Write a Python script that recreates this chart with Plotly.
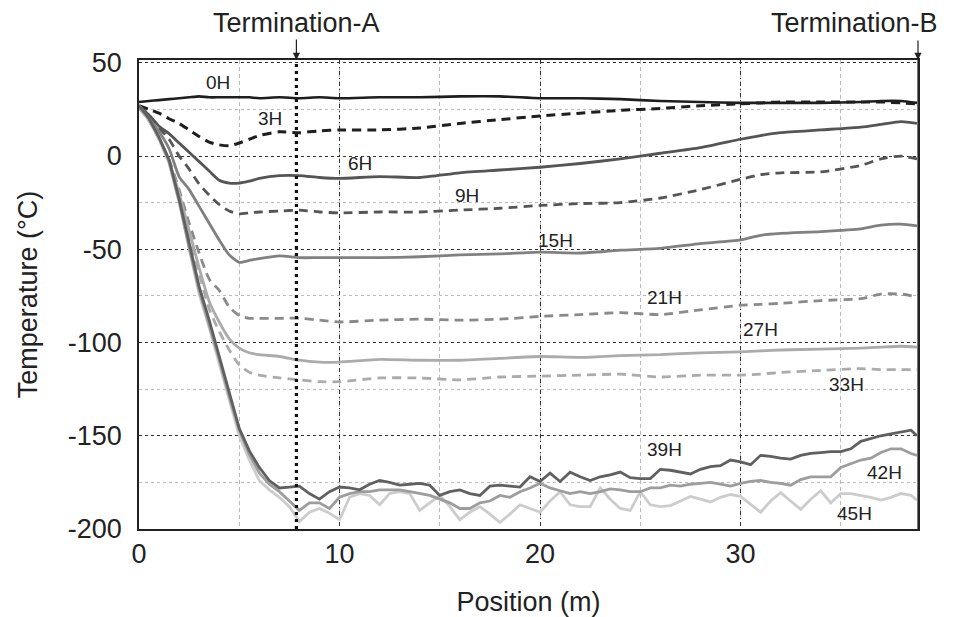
import plotly.graph_objects as go

# ---------------- data ----------------
X_S = [0, 0.5, 1, 1.5, 2, 2.5, 3, 3.5, 4, 4.5, 5, 5.5, 6, 7, 8, 9, 10, 12, 14, 16, 18,
       20, 22, 24, 26, 28, 30, 31, 32, 34, 36, 37, 38, 38.8]

T_0H = [29, 29.5, 30, 30.5, 31, 31.5, 32, 31.5, 31.5, 31.5, 31.5, 31.5, 31, 31.5, 31, 31.5, 31, 31.5, 31.5, 32, 32,
        31, 31, 30.5, 29.5, 29, 28.5, 28.5, 28.5, 28.5, 29, 29.5, 29.5, 28.5]
T_3H = [27, 25, 23, 20, 17.5, 14, 10.5, 7.5, 6, 5.5, 7, 9, 11, 13, 12.5, 13.5, 14, 14, 15, 17.5, 19.5,
        21.5, 23, 24.5, 25.5, 27, 28, 28.5, 29, 29, 29, 29, 28.5, 28]
T_6H = [27, 22, 16, 12, 7, 2, -3, -8, -13, -14.5, -14.5, -13.5, -12, -10.5, -10.5, -11.5, -12, -11, -11.5, -9, -7.5,
        -6, -4, -1.5, 1.5, 4.5, 9, 11, 12.5, 14, 15.5, 17, 18.5, 17.5]
T_9H = [27, 22, 15, 9, 0, -7, -15, -21, -26, -29.5, -31, -30.5, -30, -29.5, -29, -30, -30.5, -30, -30, -29, -28,
        -26.5, -25.5, -25, -22.5, -18, -12.5, -10, -9, -8.5, -5, -1.5, 0, -1.5]
T_15H = [26, 20, 13, 4, -11, -18, -27, -36, -45, -53, -57, -56, -55, -53.5, -54.5, -54.5, -54.5, -54.5, -54, -53, -52.5,
         -51.5, -52, -50.5, -49.5, -47, -45, -42.5, -41.5, -40.5, -39, -37, -36.5, -37.5]
T_21H = [26, 19, 9, -2, -18, -36, -52, -66, -72, -81, -85.5, -87, -87, -87, -87, -88, -89, -88, -87.5, -88, -87.5,
         -86, -85, -84, -85, -82.5, -80, -79.5, -79, -77.5, -76.5, -74, -74, -75.5]
T_27H = [26, 19, 9, -3, -20, -40, -60, -78, -89, -98, -103, -105.5, -106.5, -107.5, -109.5, -110.5, -110.5, -109, -109.5, -109.5, -108.5,
         -107.5, -108, -107, -106.5, -105.5, -105, -104.5, -104, -103.5, -103, -102.5, -102, -102.5]
T_33H = [26, 19, 9, -3, -21, -42, -63, -82, -94, -104, -112, -116, -117.5, -119, -120, -121, -121, -119, -119, -120, -118.5,
         -118, -117.5, -117, -118.5, -117.5, -117.5, -117, -116, -115, -114, -114.5, -114.5, -114.5]

X_N = [0, 0.5, 1, 1.5, 2, 2.5, 3, 3.5, 4, 4.5, 5, 5.5, 6, 6.5, 7, 7.5, 8, 8.5, 9, 9.5,
       10, 10.5, 11, 11.5, 12, 12.5, 13, 13.5, 14, 14.5, 15, 15.5, 16, 16.5, 17, 17.5, 18, 18.5, 19, 19.5,
       20, 20.5, 21, 21.5, 22, 22.5, 23, 23.5, 24, 24.5, 25, 25.5, 26, 26.5, 27, 27.5, 28, 28.5, 29, 29.5,
       30, 30.5, 31, 31.5, 32, 32.5, 33, 33.5, 34, 34.5, 35, 35.5, 36, 36.5, 37, 37.5, 38, 38.5, 38.8]

T_39H = [27, 20, 10, -2, -23, -47, -70, -88, -107, -127, -146, -158, -167, -174, -178, -177.5, -177, -181, -184, -180,
         -177.5, -178, -179, -176, -174, -175, -176.5, -176, -175.5, -176.5, -182, -180, -179, -181, -182, -177, -176.5, -177, -177.5, -172,
         -174.5, -170, -174.5, -169.5, -172, -174, -172, -171, -169.5, -172.5, -173, -173, -168, -168.5, -169.5, -170.5, -168, -166.5, -166, -163,
         -164, -165.5, -160.5, -161, -162, -162.5, -160.5, -159.5, -159, -158.5, -158.5, -157, -153, -151.5, -150, -149, -148, -147, -150]
T_42H = [27, 20, 10, -3, -24, -49, -72, -90, -109, -129, -147, -160, -170, -176, -180, -185, -190, -186, -186, -189,
         -183, -181, -180, -180, -179, -179, -179, -180, -181, -182, -184, -186, -189, -189, -186, -185, -182, -183, -180, -178,
         -175.5, -178, -179.5, -181, -180, -181, -180, -178.5, -179, -180, -180, -178, -178, -176.5, -177, -176, -175.5, -175, -176, -177,
         -175.5, -174.5, -174, -175, -175.5, -176.5, -173.5, -172, -172, -172, -167, -165, -163, -162, -159, -157, -157, -159.5, -160.5]
T_45H = [27, 19, 9, -4, -25, -50, -74, -92, -111, -131, -150, -163, -174, -179, -183, -188, -196, -191, -189, -191.5,
         -195, -183, -181, -182, -187, -181, -180, -181, -190, -186, -182, -188, -195, -191, -188, -192, -196.5, -192, -187, -189,
         -191, -185, -180, -187, -188, -188, -178, -184, -189, -190, -180, -187, -188, -187.5, -185, -182.5, -184, -185.5, -183, -181.5,
         -182.5, -187, -191, -185, -180.5, -185, -189.5, -184, -179.5, -186, -181, -181, -182, -183, -184.5, -183, -181, -182, -184.5]

LABELS = ["0H", "3H", "6H", "9H", "15H", "21H", "27H", "33H", "39H", "42H", "45H"]
LABEL_X = [3.95, 6.55, 11.0, 16.35, 20.75, 26.2, 31.0, 35.3, 26.2, 37.2, 35.7]
LABEL_Y = [39.5, 20.2, -3.9, -21.0, -45.2, -75.7, -92.9, -122.3, -157.2, -169.5, -191.5]

X_TICKS = [0, 10, 20, 30]
X_TICK_TEXT = ["0", "10", "20", "30"]
Y_TICKS = [50, 0, -50, -100, -150, -200]
Y_TICK_TEXT = ["50", "0", "-50", "-100", "-150", "-200"]

TERM_A_X = 7.85
X_MAX = 38.85

# ---------------- styles ----------------
series = [
    (X_S, T_0H, "#1e1e1e", "solid", 2.6, "spline"),
    (X_S, T_3H, "#1e1e1e", "9px,6px", 3.0, "spline"),
    (X_S, T_6H, "#555555", "solid", 2.8, "spline"),
    (X_S, T_9H, "#555555", "9px,6px", 2.8, "spline"),
    (X_S, T_15H, "#808080", "solid", 2.8, "spline"),
    (X_S, T_21H, "#8a8a8a", "9px,6px", 2.8, "spline"),
    (X_S, T_27H, "#ababab", "solid", 2.8, "spline"),
    (X_S, T_33H, "#ababab", "9px,6px", 2.8, "spline"),
    (X_N, T_45H, "#cccccc", "solid", 2.8, "linear"),
    (X_N, T_42H, "#9d9d9d", "solid", 2.8, "linear"),
    (X_N, T_39H, "#606060", "solid", 2.8, "linear"),
]

fig = go.Figure()
for xs, ys, col, dash, w, shp in series:
    line = dict(color=col, dash=dash, width=w, shape=shp)
    if shp == "spline":
        line["smoothing"] = 0.6
    fig.add_trace(go.Scatter(x=xs, y=ys, mode="lines", line=line,
                             showlegend=False, hoverinfo="skip"))

# Termination-A vertical dotted line
fig.add_shape(type="line", x0=TERM_A_X, x1=TERM_A_X, y0=0, y1=1, yref="paper",
              line=dict(color="#111111", width=3.2, dash="3px,4px"))
# Termination-B line at right edge
fig.add_shape(type="line", x0=X_MAX, x1=X_MAX, y0=0, y1=1, yref="paper",
              line=dict(color="#777777", width=2))

FONT = "Liberation Sans, Arial, sans-serif"

for t, lx, ly in zip(LABELS, LABEL_X, LABEL_Y):
    fig.add_annotation(x=lx, y=ly, text=t, showarrow=False,
                       font=dict(family=FONT, size=19, color="#222222"))

fig.add_annotation(x=TERM_A_X, y=1, yref="paper", text="Termination-A",
                   showarrow=True, arrowhead=2, arrowsize=1.2, arrowwidth=1.2,
                   arrowcolor="#222222", ax=0, ay=-37, standoff=0,
                   font=dict(family=FONT, size=27, color="#222222"))
fig.add_annotation(x=X_MAX, y=1, yref="paper", text=" ",
                   showarrow=True, arrowhead=2, arrowsize=1.2, arrowwidth=1.2,
                   arrowcolor="#222222", ax=0, ay=-24, standoff=0,
                   font=dict(family=FONT, size=6, color="#222222"))
fig.add_annotation(x=1.028, y=1, xref="paper", yref="paper", text="Termination-B",
                   showarrow=False, xanchor="right", yanchor="bottom", yshift=20,
                   font=dict(family=FONT, size=27, color="#222222"))

fig.update_layout(
    width=947, height=609,
    margin=dict(l=131, r=37, t=52, b=88, autoexpand=False),
    paper_bgcolor="white", plot_bgcolor="white",
    font=dict(family=FONT, size=27, color="#222222"),
    xaxis=dict(range=[0, X_MAX], tickvals=X_TICKS, ticktext=X_TICK_TEXT, ticks="",
               automargin=False,
               showgrid=True, gridcolor="#333333", griddash="4px,3px,1px,3px", gridwidth=1,
               minor=dict(dtick=5, showgrid=True, gridcolor="#bbbbbb", griddash="4px,3px", gridwidth=1),
               showline=True, linecolor="#222222", linewidth=1.5, mirror=True,
               zeroline=False, ticklabelstandoff=0,
               title=dict(text="Position (m)", standoff=25, font=dict(size=27))),
    yaxis=dict(range=[-200, 51.5], tickvals=Y_TICKS, ticktext=Y_TICK_TEXT, ticks="",
               automargin=False,
               showgrid=True, gridcolor="#333333", griddash="3px,3px", gridwidth=1,
               minor=dict(dtick=25, tick0=0, showgrid=True, gridcolor="#bbbbbb", griddash="3px,3px", gridwidth=1),
               showline=True, linecolor="#222222", linewidth=1.5, mirror=True,
               zeroline=False, ticklabelstandoff=10,
               title=dict(text="Temperature (°C)", standoff=22, font=dict(size=27))),
)

fig.write_html("out.html")
